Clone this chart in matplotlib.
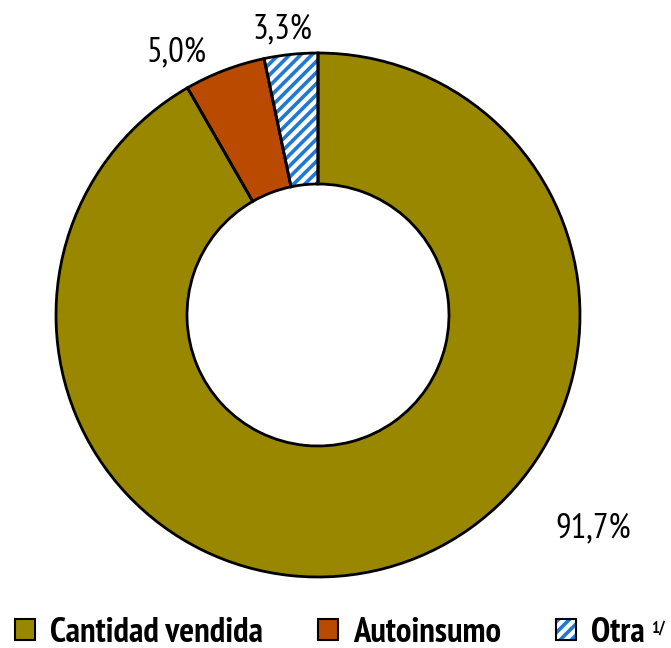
import matplotlib
matplotlib.use("Agg")
import matplotlib.pyplot as plt
from matplotlib.patches import Patch
from matplotlib.legend_handler import HandlerTuple

categories = ["Cantidad vendida", "Autoinsumo", "Otra"]
values = [91.7, 5.0, 3.3]
labels = ["91,7%", "5,0%", "3,3%"]
footnote = "1/"

OLIVE = "#9A8700"
ORANGE = "#BA4A00"
BLUE = "#1F78D4"
FONT = ['PT Sans Narrow', 'DejaVu Sans']

plt.rcParams['font.family'] = FONT
plt.rcParams['hatch.linewidth'] = 2.6

W, H = 671, 648
fig = plt.figure(figsize=(W / 100, H / 100), dpi=100)
ax = fig.add_axes([0, 0, 1, 1])
R = 262.0
cx, cy = 318.0, 315.0
width = 1 - 131 / 262

wedges, _ = ax.pie(values, colors=[OLIVE, ORANGE, "white"], startangle=90, counterclock=False,
                   radius=1, wedgeprops=dict(width=width, linewidth=0))
wedges[2].set_edgecolor(BLUE)
wedges[2].set_hatch("///")
ax.pie(values, colors=["none"] * 3, startangle=90, counterclock=False, radius=1,
       wedgeprops=dict(width=width, linewidth=2, edgecolor="black", fill=False))
ax.set_xlim(-cx / R, (W - cx) / R)
ax.set_ylim(-(H - cy) / R, cy / R)
ax.set_aspect('equal')
ax.axis('off')

def px(x, y):
    return (x - cx) / R, (cy - y) / R

label_pos = [(593, 528), (177, 52), (282, 29)]
for lab, (x, y) in zip(labels, label_pos):
    ax.text(*px(x, y), lab, ha='center', va='center', fontsize=25, color='black')

FS = 25
em = FS * 100 / 72
handles = [
    Patch(facecolor=OLIVE, edgecolor='black', linewidth=1.5),
    Patch(facecolor=ORANGE, edgecolor='black', linewidth=1.5),
    (Patch(facecolor='white', edgecolor=BLUE, hatch='///', linewidth=0),
     Patch(fill=False, edgecolor='black', linewidth=1.5)),
]
leg = fig.legend(handles, categories, loc='center left', bbox_to_anchor=(15 / W, 1 - 633 / H),
                 ncol=3, frameon=False, handlelength=20 / em, handleheight=20 / em,
                 handletextpad=15 / em, columnspacing=55 / em, borderpad=0, borderaxespad=0,
                 prop=dict(family=FONT, weight='bold', size=FS),
                 handler_map={tuple: HandlerTuple(ndivide=1, pad=0)})
fig.canvas.draw()
renderer = fig.canvas.get_renderer()
bb = leg.get_texts()[2].get_window_extent(renderer)
fig.text((bb.x1 + 6) / W, 1 - 621 / H, footnote, fontsize=12, weight='bold',
         family=FONT, va='top', ha='left')

fig.savefig("out.png", dpi=100)
